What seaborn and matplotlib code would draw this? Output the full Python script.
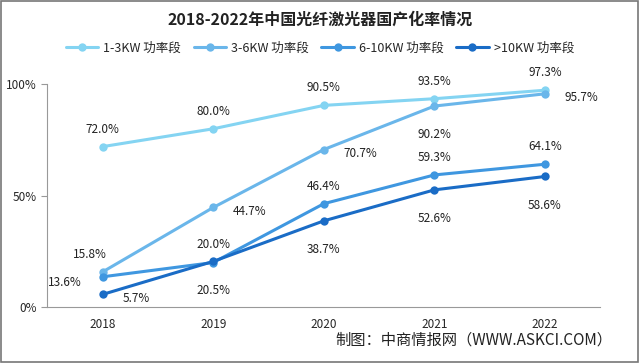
import matplotlib
matplotlib.use("Agg")
import matplotlib.pyplot as plt
import seaborn as sns
import pandas as pd
from matplotlib.patches import Rectangle

# ----------------------------
# Data
# ----------------------------
years = ["2018", "2019", "2020", "2021", "2022"]
series_names = ["1-3KW 功率段", "3-6KW 功率段", "6-10KW 功率段", ">10KW 功率段"]
rate_1_3kw = [72.0, 80.0, 90.5, 93.5, 97.3]
rate_3_6kw = [15.8, 44.7, 70.7, 90.2, 95.7]
rate_6_10kw = [13.6, 20.0, 46.4, 59.3, 64.1]
rate_10kw = [5.7, 20.5, 38.7, 52.6, 58.6]
colors = ["#84d4f2", "#6ab6ea", "#3f97e0", "#1a6cc6"]

all_rates = [rate_1_3kw, rate_3_6kw, rate_6_10kw, rate_10kw]
rows = []
for name, vals in zip(series_names, all_rates):
    for i, v in enumerate(vals):
        rows.append({"idx": i, "year": years[i], "rate": v, "series": name})
df = pd.DataFrame(rows)

# label offsets (points) per series / year
offsets = [
    [(0, 8), (0, 8), (0, 8), (0, 8), (0, 8)],
    [(-9, 8), (26, -3), (26, -3), (0, -16), (26, -3)],
    [(-27, -4), (0, 8), (0, 8), (0, 8), (0, 8)],
    [(24, -3), (0, -16), (0, -16), (0, -16), (0, -16)],
]

sns.set_style("white")
plt.rcParams["font.family"] = ["Noto Sans CJK SC", "DejaVu Sans"]

fig = plt.figure(figsize=(6.4, 3.63), dpi=100)
ax = fig.add_axes([0.074, 0.154, 0.864, 0.614])

sns.lineplot(data=df, x="idx", y="rate", hue="series", palette=colors,
             marker="o", markersize=6, markeredgewidth=0, linewidth=2.2,
             ax=ax, legend=True)

for name, vals, offs in zip(series_names, all_rates, offsets):
    for i, v in enumerate(vals):
        dx, dy = offs[i]
        if dy > 0:
            va = "bottom"
        elif dy < -5:
            va = "top"
        else:
            va = "center"
        ax.annotate(f"{v:.1f}%", (i, v), xytext=(dx, dy), textcoords="offset points",
                    ha="center", va=va, fontsize=8.5, color="#222222")

ax.set_xlim(-0.5, 4.5)
ax.set_ylim(0, 100)
ax.set_xticks(range(5))
ax.set_xticklabels(years, fontsize=8.5)
ax.set_xticks([i - 0.5 for i in range(6)], minor=True)
ax.tick_params(axis="x", which="major", length=0, pad=8)
ax.tick_params(axis="x", which="minor", length=4, color="#999999", direction="out")
ax.set_yticks([0, 50, 100])
ax.set_yticklabels(["0%", "50%", "100%"], fontsize=8.5)
ax.tick_params(axis="y", length=4, color="#999999", left=True)
ax.set_xlabel("")
ax.set_ylabel("")
for s in ["top", "right"]:
    ax.spines[s].set_visible(False)
for s in ["left", "bottom"]:
    ax.spines[s].set_color("#999999")
    ax.spines[s].set_linewidth(0.8)

handles, labels = ax.get_legend_handles_labels()
ax.legend(handles, labels, loc="center", bbox_to_anchor=(0.5, 0.868),
          bbox_transform=fig.transFigure, ncol=4, frameon=False,
          fontsize=9, handlelength=2.6, columnspacing=1.0, handletextpad=0.4)

fig.text(0.5, 0.945, "2018-2022年中国光纤激光器国产化率情况", ha="center", va="center",
         fontsize=11.5, fontweight="bold", color="#222222")
fig.text(0.957, 0.062, "制图：中商情报网（WWW.ASKCI.COM）", ha="right", va="center",
         fontsize=11, color="#222222")

fig.patches.append(Rectangle((0.002, 0.003), 0.995, 0.994, transform=fig.transFigure,
                             fill=False, edgecolor="#777777", linewidth=1.2))

fig.savefig("out.png", dpi=100)
